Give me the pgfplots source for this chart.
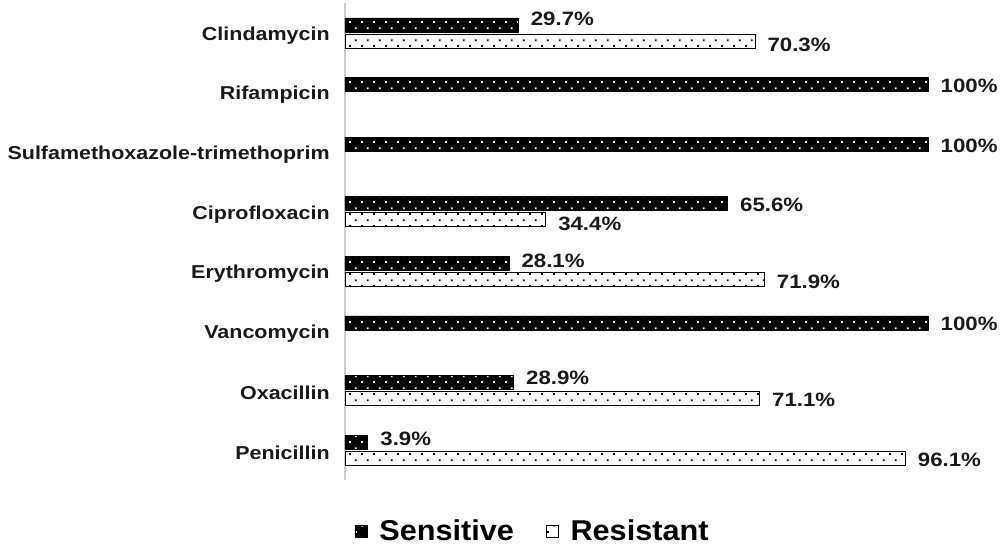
\documentclass[border=0pt]{standalone}
\usepackage{fontspec}
\setmainfont{Liberation Sans}
\newfontfamily\wf[FakeStretch=1.15]{Liberation Sans}
\newfontfamily\lf[FakeStretch=1.07]{Liberation Sans}
\usepackage{pgfplots}
\pgfplotsset{compat=1.18}
\usepackage{pgfplotstable}
\usetikzlibrary{patterns}
\pgfdeclarepatternformonly{sparsedots}{\pgfpointorigin}{\pgfpoint{9pt}{9pt}}{\pgfpoint{9pt}{9pt}}{%
 \pgfpathrectangle{\pgfpoint{1pt}{1pt}}{\pgfpoint{1.4pt}{1.4pt}}%
 \pgfpathrectangle{\pgfpoint{5.5pt}{5.5pt}}{\pgfpoint{1.4pt}{1.4pt}}%
 \pgfusepath{fill}}

\pgfplotstableread{
y x dy
0 3.9 5
1 28.9 6
2 100 0
3 28.1 4
4 65.6 0
5 100 0
6 100 0
7 29.7 7
}\sens
\pgfplotstableread{
y x dy
0 96.1 0
1 71.1 0
3 71.9 -1
4 34.4 -3
7 70.3 -3
}\resi

\begin{document}
\begin{tikzpicture}
\useasboundingbox (-258.75pt,-53.25pt) rectangle (492.75pt,360pt);
\begin{axis}[
  at={(0,0)}, anchor=south west,
  scale only axis, width=437.25pt, height=357.75pt,
  xmin=0, xmax=100, ymin=-0.5, ymax=7.5,
  axis x line=none, axis y line*=left,
  y axis line style={draw=gray!40, line width=1.2pt, -},
  ytick={0,...,7},
  yticklabels={Penicillin,Oxacillin,Vancomycin,Erythromycin,Ciprofloxacin,Sulfamethoxazole-trimethoprim,Rifampicin,Clindamycin},
  major tick length=0pt,
  yticklabel style={font=\wf\bfseries\fontsize{14}{16}\selectfont, text=black!90, xshift=-8pt, yshift=-2pt},
  /pgf/number format/assume math mode=true,
  clip=false,
  legend style={at={(0.3225,-0.107)}, anchor=center, draw=none, legend columns=2,
    font=\lf\bfseries\fontsize{21.5}{24}\selectfont,
    /tikz/every odd column/.append style={column sep=7pt},
    /tikz/every even column/.append style={column sep=22pt}},
  legend image code/.code={\draw[#1] (0pt,-4.5pt) rectangle (9pt,4.5pt);},
]
\addlegendimage{draw=black,fill=black,postaction={pattern=sparsedots, pattern color=white}}
\addlegendentry{Sensitive}
\addlegendimage{draw=black,fill=white,postaction={pattern=sparsedots, pattern color=black}}
\addlegendentry{Resistant}
\addplot[forget plot, xbar, bar width=10.5pt, bar shift=6pt, draw=black, fill=black,
  postaction={pattern=sparsedots, pattern color=white},
  point meta=x,
  visualization depends on={\thisrow{dy} \as \dy},
  nodes near coords={\pgfmathprintnumber[fixed,precision=1]{\pgfplotspointmeta}\%},
  every node near coord/.append style={font=\wf\bfseries\fontsize{14.5}{16}\selectfont, text=black!90, anchor=west, xshift=6pt, yshift=5pt+\dy*0.75pt}
] table[x=x,y=y] {\sens};
\addplot[forget plot, xbar, bar width=10.5pt, bar shift=-6pt, draw=black, fill=white,
  postaction={pattern=sparsedots, pattern color=black},
  point meta=x,
  visualization depends on={\thisrow{dy} \as \dy},
  nodes near coords={\pgfmathprintnumber[fixed,precision=1]{\pgfplotspointmeta}\%},
  every node near coord/.append style={font=\wf\bfseries\fontsize{14.5}{16}\selectfont, text=black!90, anchor=west, xshift=6pt, yshift=-7pt+\dy*0.75pt}
] table[x=x,y=y] {\resi};
\end{axis}
\end{tikzpicture}
\end{document}
